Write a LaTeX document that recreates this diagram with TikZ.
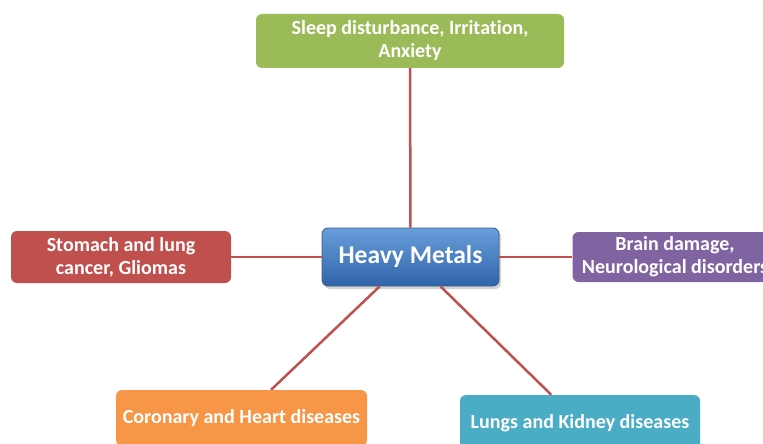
\documentclass[tikz,border=0pt]{standalone}
\usepackage{fontspec}
\setmainfont[Ligatures=NoCommon]{Carlito}
\usetikzlibrary{shadows}
\definecolor{linkred}{RGB}{192,80,77}
\definecolor{boxgreen}{RGB}{155,187,89}
\definecolor{boxred}{RGB}{192,80,77}
\definecolor{boxpurple}{RGB}{128,100,162}
\definecolor{boxorange}{RGB}{247,150,70}
\definecolor{boxteal}{RGB}{75,172,198}
\definecolor{hmtop}{RGB}{104,158,218}
\definecolor{hmbottom}{RGB}{48,100,170}
\definecolor{hmedge}{RGB}{56,93,138}
\tikzset{
  effect/.style={rounded corners=6pt, text=white, align=center,
    font=\bfseries\fontsize{20}{23}\selectfont, inner sep=0pt},
  link/.style={linkred, line width=2.5pt}
}
\begin{document}
\begin{tikzpicture}[x=1pt,y=-1pt]
  \useasboundingbox (0,0) rectangle (763,444);
  % centre
  \node[rounded corners=6pt, text=white, font=\bfseries\fontsize{25.5}{28}\selectfont,
    minimum width=177pt, minimum height=58pt, draw=hmedge, line width=0.8pt,
    top color=hmtop, bottom color=hmbottom,
    drop shadow={opacity=0.35, shadow xshift=2pt, shadow yshift=-3pt}]
    (hm) at (410.5,257) {Heavy Metals};
  % effects
  \node[effect, fill=boxgreen, minimum width=308pt, minimum height=54pt]
    (sleep) at (410,41) {Sleep disturbance, Irritation,\\Anxiety};
  \node[effect, fill=boxred, minimum width=220pt, minimum height=52pt]
    (stomach) at (121,257) {Stomach and lung\\cancer, Gliomas};
  \node[effect, fill=boxpurple, minimum width=205pt, minimum height=50pt]
    (brain) at (675,257) {Brain damage,\\Neurological disorders};
  \node[effect, fill=boxorange, minimum width=251pt, minimum height=56pt]
    (heart) at (241.5,418) {Coronary and Heart diseases};
  \node[effect, fill=boxteal, minimum width=240pt, minimum height=56pt]
    (lungs) at (580,423) {Lungs and Kidney diseases};
  % links
  \draw[link] (hm) -- (sleep);
  \draw[link] (hm) -- (stomach);
  \draw[link] (hm) -- (brain);
  \draw[link] (hm) -- (heart);
  \draw[link] (hm) -- (lungs);
\end{tikzpicture}
\end{document}
